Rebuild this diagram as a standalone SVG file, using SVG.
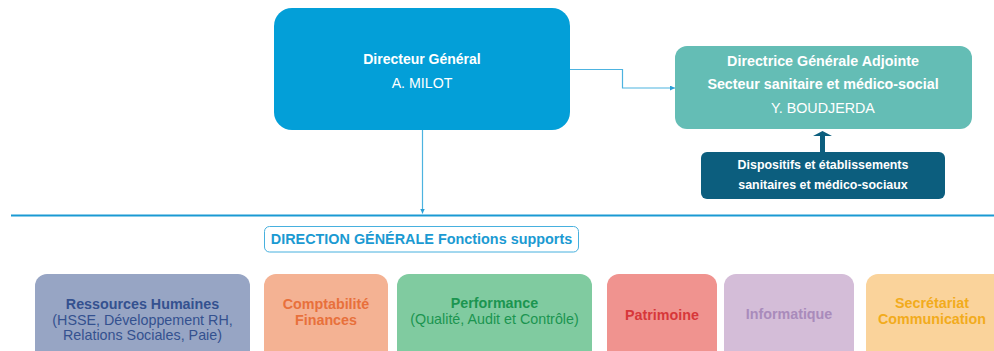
<svg xmlns="http://www.w3.org/2000/svg" width="994" height="351" viewBox="0 0 994 351">
<defs>
<style>
text{font-family:"Liberation Sans",Arial,sans-serif;text-anchor:middle;}
.b{font-weight:bold;}
.w{fill:#ffffff;}
.conn{fill:none;stroke:#4DB3E0;stroke-width:1.2;}
</style>
<marker id="ah" viewBox="0 0 6 6" refX="6" refY="3" markerWidth="5" markerHeight="5" orient="auto" markerUnits="userSpaceOnUse">
<path d="M0,0 L6,3 L0,6 z" fill="#2A9FD6"/>
</marker>
</defs>
<rect width="994" height="351" fill="#ffffff"/>
<g id="connectors">
<line x1="11" y1="215.5" x2="994" y2="215.5" stroke="#1A9AD3" stroke-width="2.2"/>
<path class="conn" d="M422.5,130 V213.5" marker-end="url(#ah)"/>
<path class="conn" d="M570,69.5 H622.5 V88 H675" marker-end="url(#ah)"/>
<path d="M820,152 V136 H813 L822.5,131 L832,136 H825 V152 z" fill="#0C5E7E"/>
</g>
<g id="dg">
<rect x="274" y="8" width="296" height="122" rx="18" fill="#039FD8"/>
<text class="b w" x="422" y="64" font-size="14">Directeur Général</text>
<text class="w" x="422" y="87.5" font-size="14.2">A. MILOT</text>
</g>
<g id="dga">
<rect x="675" y="46" width="297" height="83" rx="12" fill="#64BDB5"/>
<text class="b w" x="823" y="66" font-size="14.3">Directrice Générale Adjointe</text>
<text class="b w" x="823" y="89" font-size="14.3">Secteur sanitaire et médico-social</text>
<text class="w" x="823" y="113" font-size="14.3">Y. BOUDJERDA</text>
</g>
<g id="dispositifs">
<rect x="701" y="152" width="244" height="47" rx="6" fill="#0C5E7E"/>
<text class="b w" x="823" y="168.5" font-size="12.4">Dispositifs et établissements</text>
<text class="b w" x="823" y="188.5" font-size="12.4">sanitaires et médico-sociaux</text>
</g>
<g id="label">
<rect x="264.5" y="226.5" width="314" height="25.5" rx="5" fill="#ffffff" stroke="#47B0DE" stroke-width="1"/>
<text class="b" x="421.5" y="243.5" font-size="14.4" fill="#1B9AD2">DIRECTION GÉNÉRALE Fonctions supports</text>
</g>
<g id="rh">
<rect x="35" y="274" width="215" height="95" rx="12" fill="#97A5C4"/>
<text class="b" x="142.5" y="309" font-size="14.3" fill="#34518F">Ressources Humaines</text>
<text x="142.5" y="324.5" font-size="14.3" fill="#34518F">(HSSE, Développement RH,</text>
<text x="142.5" y="340" font-size="14.3" fill="#34518F">Relations Sociales, Paie)</text>
</g>
<g id="compta">
<rect x="264" y="274" width="124" height="95" rx="12" fill="#F4B293"/>
<text class="b" x="326" y="309" font-size="14.3" fill="#E8703B">Comptabilité</text>
<text class="b" x="326" y="324.5" font-size="14.3" fill="#E8703B">Finances</text>
</g>
<g id="perf">
<rect x="397" y="274" width="195" height="95" rx="12" fill="#80CBA0"/>
<text class="b" x="494.5" y="308" font-size="14.3" fill="#1B9550">Performance</text>
<text x="494.5" y="323.5" font-size="14.3" fill="#1B9550">(Qualité, Audit et Contrôle)</text>
</g>
<g id="patrimoine">
<rect x="607" y="274" width="110" height="95" rx="12" fill="#F0938F"/>
<text class="b" x="662" y="320" font-size="14.3" fill="#D7373A">Patrimoine</text>
</g>
<g id="info">
<rect x="724" y="274" width="130" height="95" rx="12" fill="#D4BDD8"/>
<text class="b" x="789" y="319" font-size="14.3" fill="#A98BBB">Informatique</text>
</g>
<g id="secretariat">
<rect x="866" y="274" width="150" height="95" rx="12" fill="#FAD39B"/>
<text class="b" x="932" y="308" font-size="14.3" fill="#F2AB1C">Secrétariat</text>
<text class="b" x="932" y="324" font-size="14.3" fill="#F2AB1C">Communication</text>
</g>
</svg>
